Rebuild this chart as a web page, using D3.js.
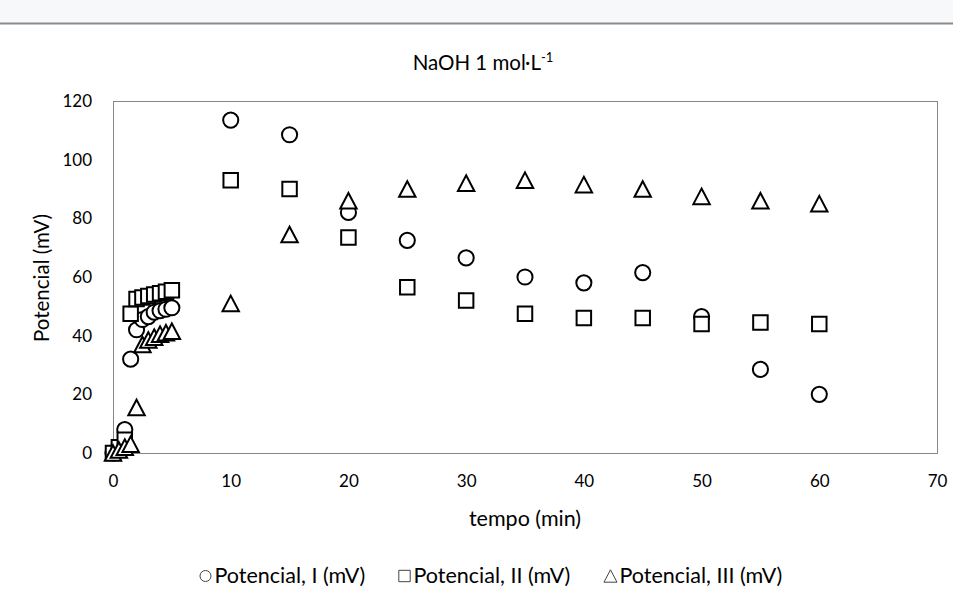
<!DOCTYPE html>
<html>
<head>
<meta charset="utf-8">
<script src="https://cdn.jsdelivr.net/npm/d3@7"></script>
<style>
  body { margin: 0; background: #fff; }
  svg text { font-family: Lato, "Noto Sans", sans-serif; fill: #000; }
</style>
</head>
<body>
<div id="chart"></div>
<script>
// tempo (min)
var tempo = [0, 0.5, 1, 1.5, 2, 2.5, 3, 3.5, 4, 4.5, 5, 10, 15, 20, 25, 30, 35, 40, 45, 50, 55, 60]
// Potencial series (mV)
var potencialI   = [0, 2, 8, 32, 42, 45.5, 46.5, 48, 48.5, 49, 49.5, 113.5, 108.5, 82, 72.5, 66.5, 60, 58, 61.5, 46.5, 28.5, 20]
var potencialII  = [0, 2, 4.5, 47.5, 52.5, 53, 53.5, 54, 54.5, 55, 55.5, 93, 90, 73.5, 56.5, 52, 47.5, 46, 46, 44, 44.5, 44]
var potencialIII = [0, 1, 2, 3, 15.5, 37, 38.5, 39.5, 40.5, 41, 41.5, 51, 74.5, 86, 90, 92, 93, 91.5, 90, 87.5, 86, 85]

var xTicks = [0, 10, 20, 30, 40, 50, 60, 70]
var yTicks = [0, 20, 40, 60, 80, 100, 120]
var seriesNames = ["Potencial, I (mV)", "Potencial, II (mV)", "Potencial, III (mV)"]

// Excel style triangle: centred on its bounding box
var excelTriangle = {
  draw: function (context, size) {
    var w = Math.sqrt(size), h = w * 0.95
    context.moveTo(0, -h / 2)
    context.lineTo(w / 2, h / 2)
    context.lineTo(-w / 2, h / 2)
    context.closePath()
  }
}
var shapes = [d3.symbolCircle, d3.symbolSquare, excelTriangle]

var width = 953
var height = 591
var margin = { left: 113, right: 16, top: 101, bottom: 138 }

var svg = d3.select('#chart').append('svg')
  .attr('width', width)
  .attr('height', height)

// screenshot strip at the top
svg.append('rect').attr('x', 0).attr('y', 0).attr('width', width).attr('height', 23).attr('fill', '#f7f8fa')
svg.append('line').attr('x1', 0).attr('x2', width).attr('y1', 23.5).attr('y2', 23.5)
  .attr('stroke', '#8a8a8a').attr('stroke-width', 2)

var xScale = d3.scaleLinear().domain([0, 70]).range([margin.left, width - margin.right])
var yScale = d3.scaleLinear().domain([0, 120]).range([height - margin.bottom, margin.top])

// plot area border
svg.append('rect')
  .attr('x', xScale(0) + 0.5)
  .attr('y', yScale(120) + 0.5)
  .attr('width', xScale(70) - xScale(0))
  .attr('height', yScale(0) - yScale(120))
  .attr('fill', 'none')
  .attr('stroke', '#868686')
  .attr('stroke-width', 1)

// axes (no tick marks, labels only)
var xAxis = svg.append('g')
  .attr('transform', 'translate(0,' + yScale(0) + ')')
  .call(d3.axisBottom(xScale).tickValues(xTicks).tickSize(0).tickPadding(22))
xAxis.select('.domain').attr('stroke', '#868686')
xAxis.selectAll('text').style('font-size', '17px')

var yAxis = svg.append('g')
  .attr('transform', 'translate(' + xScale(0) + ',0)')
  .call(d3.axisLeft(yScale).tickValues(yTicks).tickSize(0).tickPadding(21))
yAxis.select('.domain').remove()
yAxis.selectAll('text').style('font-size', '17px')

// titles
var title = svg.append('text')
  .attr('x', 483)
  .attr('y', 70)
  .attr('text-anchor', 'middle')
  .style('font-size', '20.5px')
title.append('tspan').text('NaOH 1 mol·L')
title.append('tspan').attr('dy', -8).style('font-size', '13px').text('-1')

svg.append('text')
  .attr('x', 525)
  .attr('y', 526)
  .attr('text-anchor', 'middle')
  .style('font-size', '21.5px')
  .text('tempo (min)')

svg.append('text')
  .attr('transform', 'translate(49,' + 278 + ')rotate(-90)')
  .attr('text-anchor', 'middle')
  .style('font-size', '20.5px')
  .text('Potencial (mV)')

// markers
var allSeries = [potencialI, potencialII, potencialIII]
var symbolSizes = [180, 210, 270]
allSeries.forEach(function (vals, s) {
  var sym = d3.symbol().type(shapes[s]).size(symbolSizes[s])
  svg.append('g').selectAll('path')
    .data(tempo.map(function (t, i) { return [t, vals[i]] }))
    .enter()
    .append('path')
      .attr('d', sym)
      .attr('transform', function (d) {
        return 'translate(' + xScale(d[0]) + ',' + yScale(d[1]) + ')'
      })
      .attr('fill', '#fff')
      .attr('stroke', '#000')
      .attr('stroke-width', 2)
})

// legend
var legendX = [205.5, 404.5, 610.5]
seriesNames.forEach(function (name, i) {
  var sizes = [95, 130, 170]
  svg.append('path')
    .attr('d', d3.symbol().type(shapes[i]).size(sizes[i]))
    .attr('transform', 'translate(' + legendX[i] + ',576)')
    .attr('fill', '#fff')
    .attr('stroke', '#444')
    .attr('stroke-width', 1)
  svg.append('text')
    .attr('x', legendX[i] + 9)
    .attr('y', 583)
    .style('font-size', '21.5px')
    .text(name)
})
</script>
</body>
</html>
